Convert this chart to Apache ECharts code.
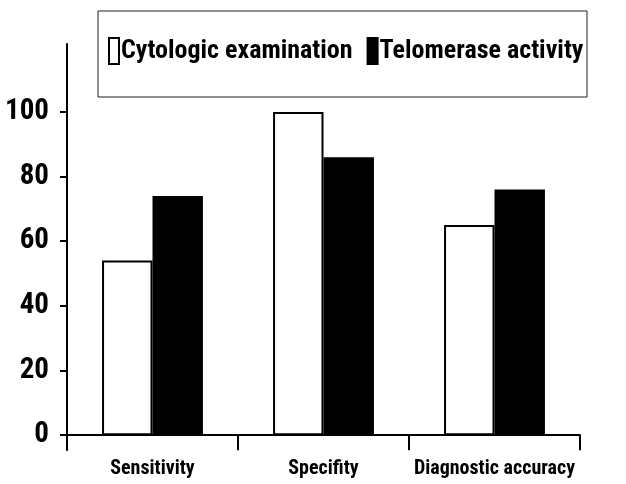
<!DOCTYPE html>
<html>
<head>
<meta charset="utf-8">
<script src="https://cdn.jsdelivr.net/npm/echarts@6/dist/echarts.min.js"></script>
<style>
  html, body { margin: 0; padding: 0; background: #fff; }
  #chart { width: 626px; height: 484px; }
</style>
</head>
<body>
<div id="chart"></div>
<script>
const categories = ['Sensitivity', 'Specifity', 'Diagnostic accuracy']
const cytologic = [54, 100, 65]
const telomerase = [74, 86, 76]
const yTicks = [0, 20, 40, 60, 80, 100]

const narrow = '"Roboto Condensed", "DejaVu Sans", sans-serif'

const myChart = echarts.init(document.getElementById('chart'))
myChart.setOption({
  backgroundColor: '#fff',
  animation: false,
  graphic: [{
    type: 'rect',
    shape: {x: 98, y: 11, width: 489, height: 86},
    style: {fill: 'none', stroke: '#222', lineWidth: 1}
  }],
  legend: {
    left: 108,
    top: 37,
    width: 480,
    padding: 0,
    itemWidth: 10,
    itemHeight: 26,
    itemGap: 14,
    icon: 'rect',
    textStyle: {
      fontFamily: narrow,
      fontWeight: 'bold',
      fontSize: 26,
      color: '#000',
      padding: [0, 0, 0, -3]
    },
    data: ['Cytologic examination', 'Telomerase activity']
  },
  grid: {left: 67, right: 46, top: 44, bottom: 34, outerBoundsMode: 'none', containLabel: false},
  xAxis: {
    type: 'category',
    data: categories,
    axisLine: {onZero: true, lineStyle: {color: '#000', width: 2}},
    axisTick: {show: true, length: 15, lineStyle: {color: '#000', width: 2}},
    axisLabel: {
      interval: 0,
      fontFamily: narrow,
      fontWeight: 'bold',
      fontSize: 20,
      color: '#000',
      margin: 9
    }
  },
  yAxis: {
    type: 'value',
    min: -4.6,
    max: 121,
    splitLine: {show: false},
    axisLine: {show: true, lineStyle: {color: '#000', width: 2}},
    axisTick: {show: true, length: 7, customValues: yTicks, lineStyle: {color: '#000', width: 2}},
    axisLabel: {
      customValues: yTicks,
      fontFamily: narrow,
      fontWeight: 'bold',
      fontSize: 29,
      color: '#000',
      margin: 18
    }
  },
  series: [
    {
      name: 'Cytologic examination',
      type: 'bar',
      data: cytologic,
      barGap: '0%',
      barCategoryGap: '41%',
      itemStyle: {color: '#fff', borderColor: '#000', borderWidth: 2}
    },
    {
      name: 'Telomerase activity',
      type: 'bar',
      data: telomerase,
      itemStyle: {color: '#000', borderColor: '#000', borderWidth: 2}
    }
  ]
})
</script>
</body>
</html>
